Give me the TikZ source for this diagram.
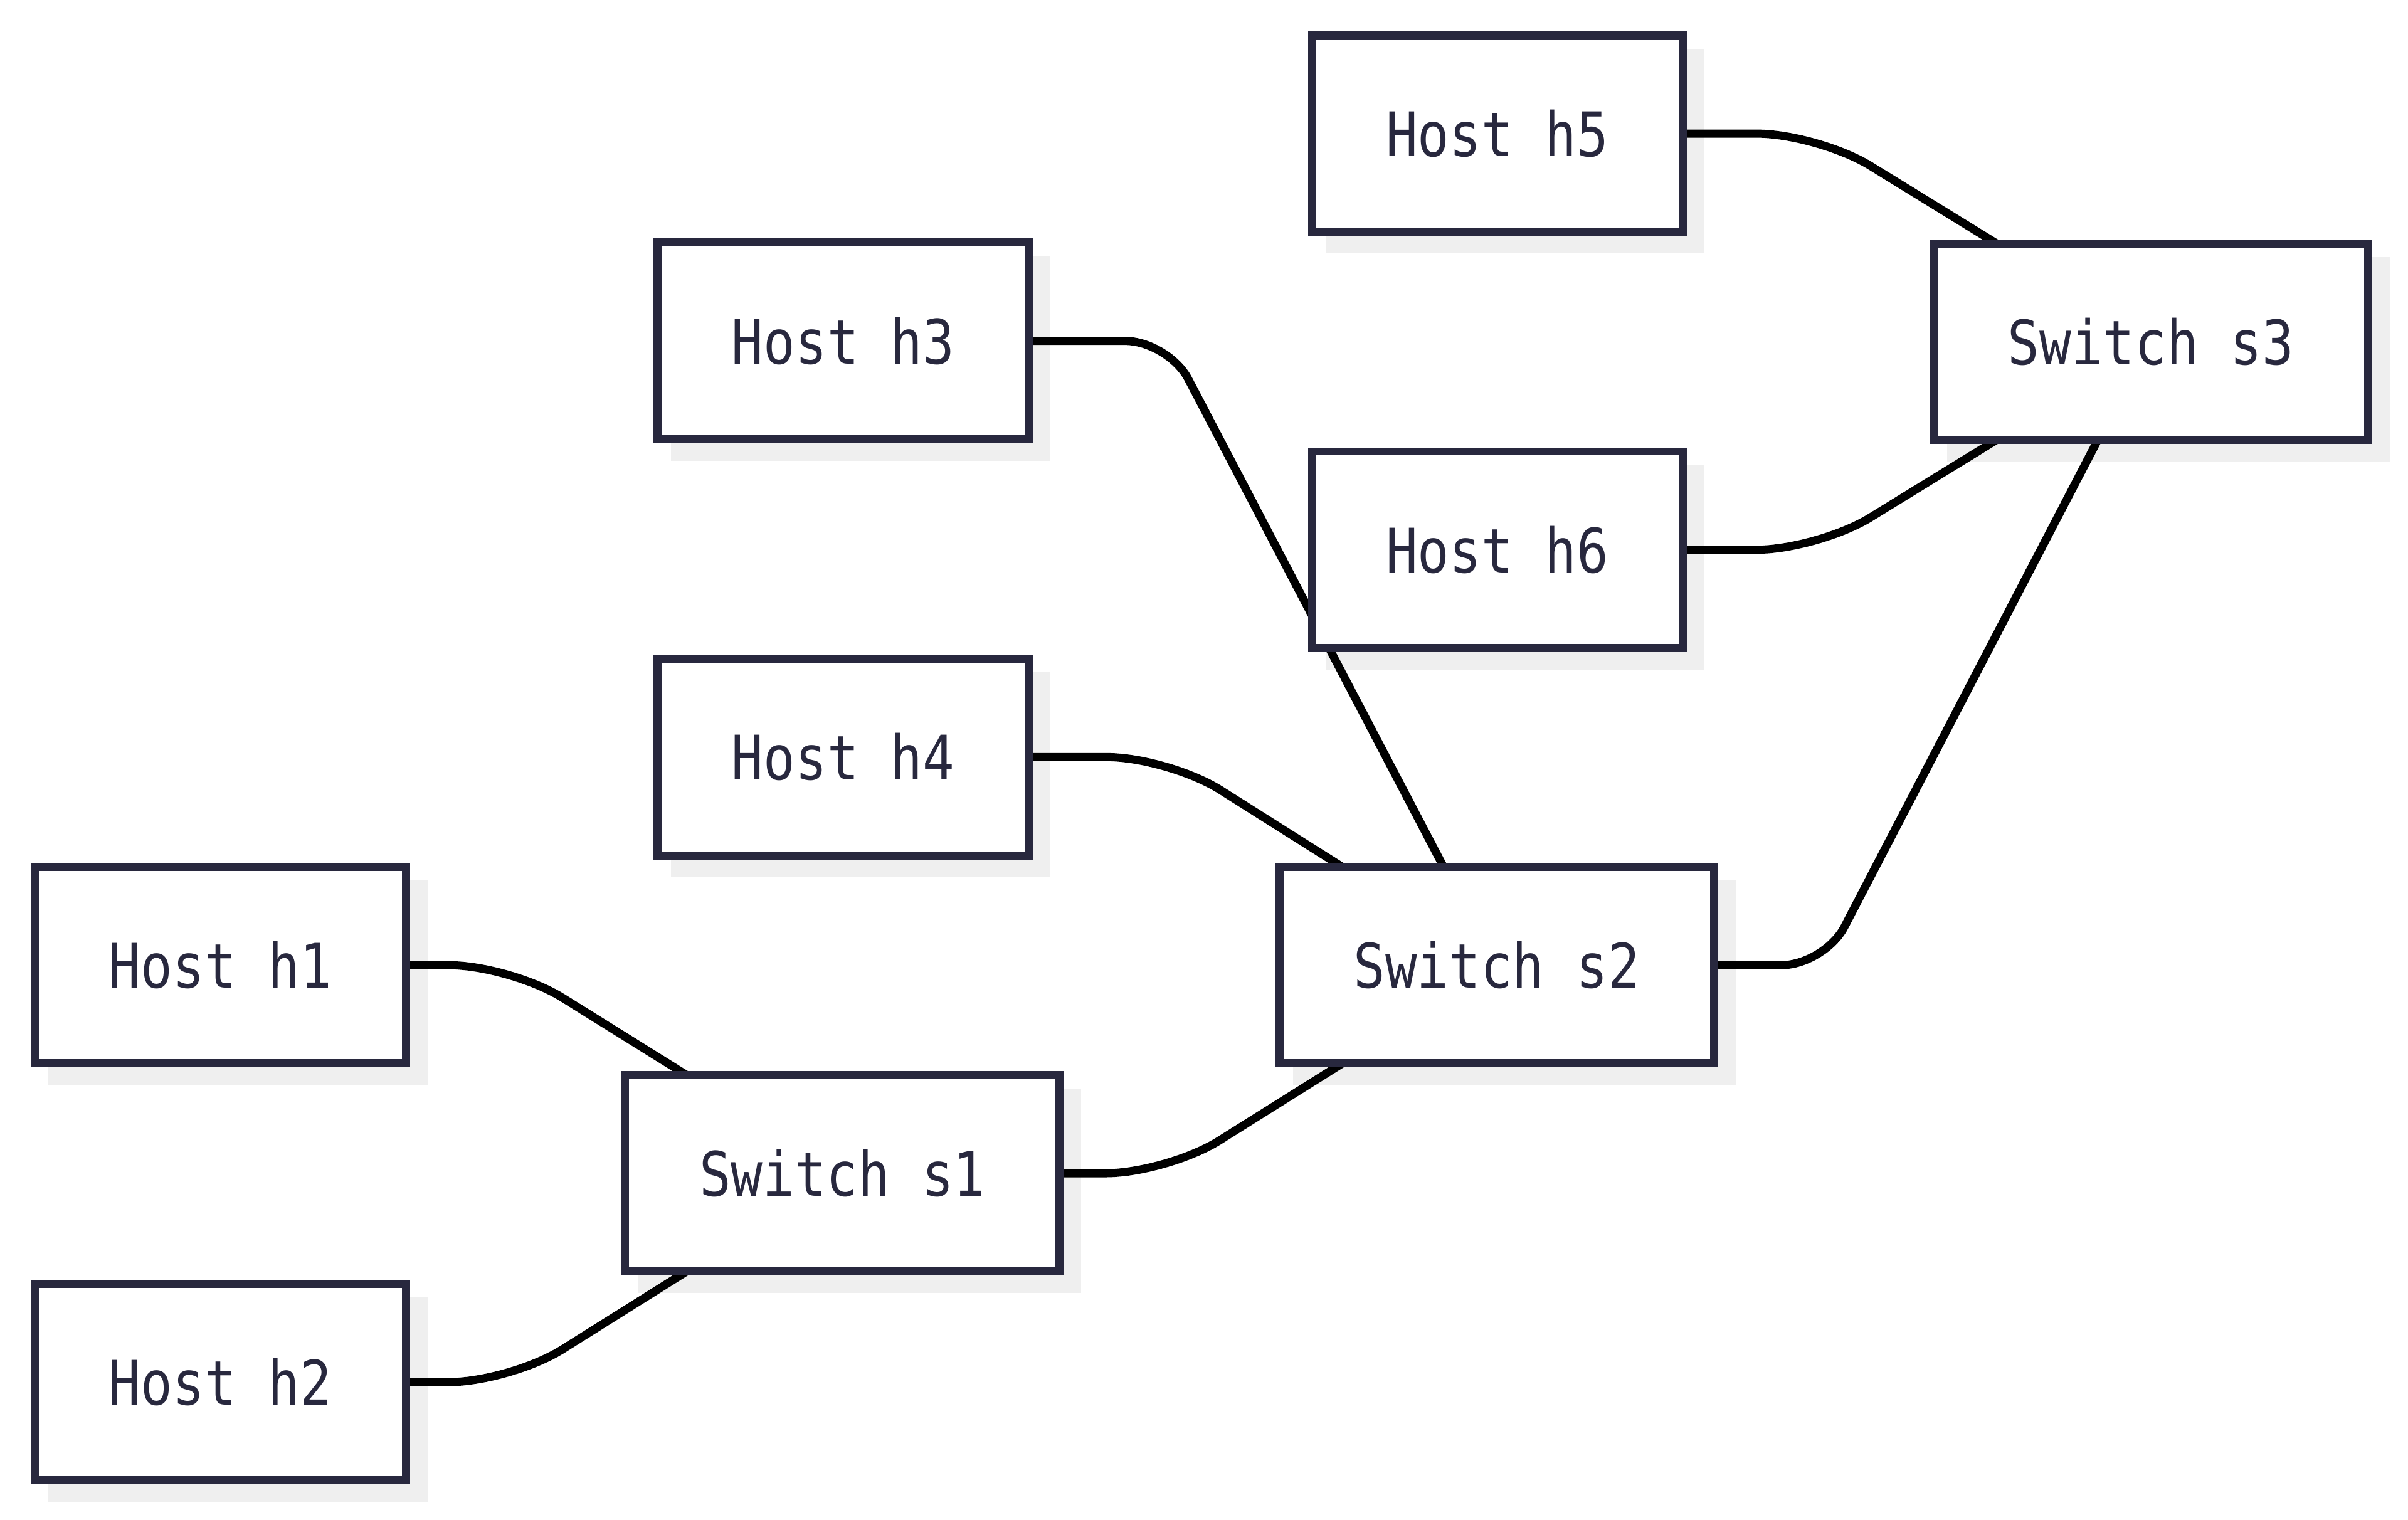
\documentclass[tikz,border=0pt]{standalone}
\usepackage{fontspec}
\usepackage{tikz}
\newfontfamily\boxfont{DejaVu Sans Mono}[FakeStretch=0.86]
\definecolor{boxline}{RGB}{40,40,62}
\definecolor{shadowgray}{RGB}{239,239,239}
\pgfdeclarelayer{shadowlayer}
\pgfdeclarelayer{linklayer}
\pgfsetlayers{shadowlayer,linklayer,main}

\begin{document}
\begin{tikzpicture}[x=1pt, y=-1pt,
   box/.style={draw=boxline, fill=white, line width=5.3pt, text=boxline, outer sep=0pt, inner sep=0pt, minimum height=128pt, font=\boxfont\fontsize{40}{48}\selectfont},
   host/.style={box, minimum width=241.5pt},
   switch/.style={box, minimum width=283pt},
   link/.style={draw=black, line width=5.3pt, rounded corners=40pt},
   long link/.style={link, rounded corners=28pt}]
   \useasboundingbox (0,0) rectangle (1568,989.4);
   \node[host] (h5) at (975,87) {Host h5};
   \node[host] (h3) at (549,222) {Host h3};
   \node[host] (h6) at (975,358) {Host h6};
   \node[host] (h4) at (549,493) {Host h4};
   \node[host] (h1) at (143.5,628.5) {Host h1};
   \node[host] (h2) at (143.5,900) {Host h2};
   \node[switch] (s1) at (548.5,764) {Switch s1};
   \node[switch] (s2) at (974.5,628.5) {Switch s2};
   \node[switch] (s3) at (1400.5,222.5) {Switch s3};
   \begin{pgfonlayer}{shadowlayer}
      \foreach \n in {h1,h2,h3,h4,h5,h6,s1,s2,s3}
         \fill[shadowgray] ([shift={(8.85,8.85)}]\n.north west) rectangle ([shift={(14.15,14.15)}]\n.south east);
   \end{pgfonlayer}
   \begin{pgfonlayer}{linklayer}
      \draw[link] (h1.east) -- ++(68,0) -- ([xshift=40pt]s1.north west);
      \draw[link] (h2.east) -- ++(68,0) -- ([xshift=40pt]s1.south west);
      \draw[link] (s1.east) -- ++(70,0) -- ([xshift=41pt]s2.south west);
      \draw[link] (h4.east) -- ++(91,0) -- ([xshift=41pt]s2.north west);
      \draw[long link] (h3.east) -- ++(91,0) -- ([xshift=107pt]s2.north west);
      \draw[long link] (s2.east) -- ++(72,0) -- ([xshift=107pt]s3.south west);
      \draw[link] (h5.east) -- ++(88,0) -- ([xshift=41pt]s3.north west);
      \draw[link] (h6.east) -- ++(88,0) -- ([xshift=41pt]s3.south west);
   \end{pgfonlayer}
\end{tikzpicture}
\end{document}
